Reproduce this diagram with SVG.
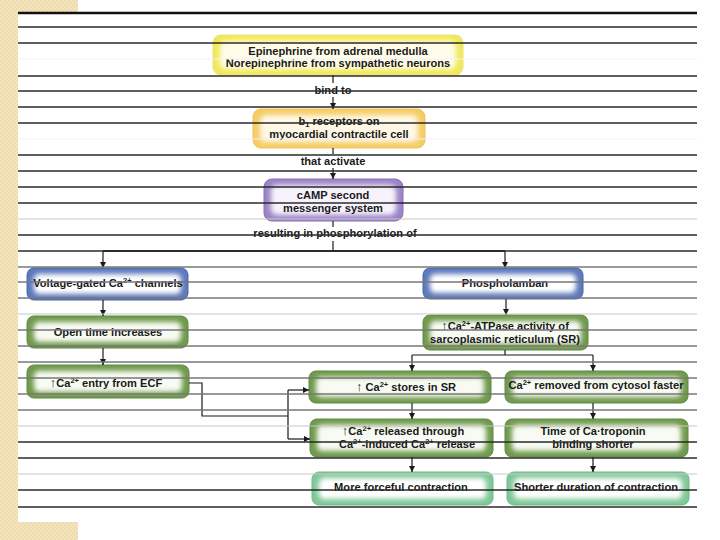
<svg xmlns="http://www.w3.org/2000/svg" width="720" height="540" viewBox="0 0 720 540">
<defs>
<pattern id="tex" width="4" height="4" patternUnits="userSpaceOnUse">
<rect width="4" height="4" fill="#f3e4bb"/>
<circle cx="1" cy="1" r="0.8" fill="#e8d5a4"/>
<circle cx="3" cy="3" r="0.8" fill="#e8d5a4"/>
</pattern>
<filter id="soft" x="-20%" y="-40%" width="140%" height="180%">
<feGaussianBlur stdDeviation="2.8"/>
</filter>
<marker id="ah" markerUnits="userSpaceOnUse" markerWidth="7" markerHeight="7" refX="6" refY="3" orient="auto">
<path d="M0,0 L6,3 L0,6 z" fill="#1a1a1a"/>
</marker>
<style>
.t{font-family:"Liberation Sans",Arial,Helvetica,sans-serif;font-weight:bold;font-size:11.1px;fill:#1a1a1a;text-anchor:middle}
.sup{font-size:7.5px}
.up{font-size:13px;font-weight:normal}
.c{fill:none;stroke:#1a1a1a;stroke-width:1.2}
.ca{fill:none;stroke:#1a1a1a;stroke-width:1.2;marker-end:url(#ah)}
.inner{filter:url(#soft)}
.yel .o{fill:#f1e95a;stroke:#ece27a;stroke-width:1}
.yel .inner{fill:#fffdea}
.org .o{fill:#f5cd66;stroke:#efc45a;stroke-width:1}
.org .inner{fill:#fff8e6}
.pur .o{fill:#9c84c6;stroke:#8870b4;stroke-width:1}
.pur .inner{fill:#f7f3fc}
.blu .o{fill:#5b79bc;stroke:#4a66a8;stroke-width:1}
.blu .inner{fill:#ffffff}
.grn .o{fill:#6f9a4c;stroke:#5e8840;stroke-width:1}
.grn .inner{fill:#f8fbf3}
.mnt .o{fill:#80c898;stroke:#6fb888;stroke-width:1}
.mnt .inner{fill:#ffffff}
.rl{stroke:#2a2a2a;stroke-width:1.3}
.rg{stroke:#777;stroke-width:1.3}
.rf{stroke:#c8c8c8;stroke-width:1.2}
.rx{stroke:#f2f2f2;stroke-width:1}
</style>
</defs>

<g id="background">
<rect x="0" y="0" width="720" height="540" fill="#ffffff"/>
<rect x="0" y="0" width="18" height="540" fill="url(#tex)"/>
<rect x="0" y="0" width="78" height="12" fill="url(#tex)"/>
<rect x="0" y="522" width="78" height="18" fill="url(#tex)"/>
</g>

<g id="n-epinephrine" class="yel">
<rect class="o" x="213" y="35" width="250" height="40" rx="8"/>
<rect class="inner" x="220" y="41" width="236" height="28" rx="6"/>
<text class="t" x="338" y="55">Epinephrine from adrenal medulla</text>
<text class="t" x="338" y="67">Norepinephrine from sympathetic neurons</text>
</g>

<g id="n-b1" class="org">
<rect class="o" x="253" y="109" width="172" height="39" rx="8"/>
<rect class="inner" x="260" y="115" width="158" height="27" rx="6"/>
<text class="t" x="339" y="125">b<tspan class="sup" dy="2">1</tspan><tspan dy="-2"> receptors on</tspan></text>
<text class="t" x="339" y="138">myocardial contractile cell</text>
</g>

<g id="n-camp" class="pur">
<rect class="o" x="264" y="179" width="139" height="42" rx="8"/>
<rect class="inner" x="271" y="185" width="125" height="30" rx="6"/>
<text class="t" x="333" y="199">cAMP second</text>
<text class="t" x="333" y="212">messenger system</text>
</g>

<g id="n-voltage" class="blu">
<rect class="o" x="27" y="268" width="161" height="32" rx="7"/>
<rect class="inner" x="34" y="274" width="147" height="20" rx="5"/>
<text class="t" x="108" y="287">Voltage-gated Ca<tspan class="sup" dy="-4">2+</tspan><tspan dy="4"> channels</tspan></text>
</g>

<g id="n-phospholamban" class="blu">
<rect class="o" x="423" y="268" width="160" height="31" rx="7"/>
<rect class="inner" x="430" y="274" width="146" height="19" rx="5"/>
<text class="t" x="505" y="287">Phospholamban</text>
</g>

<g id="n-opentime" class="grn">
<rect class="o" x="27" y="316" width="161" height="32" rx="7"/>
<rect class="inner" x="34" y="322" width="147" height="20" rx="5"/>
<text class="t" x="108" y="336">Open time increases</text>
</g>

<g id="n-atpase" class="grn">
<rect class="o" x="423" y="315" width="165" height="35" rx="7"/>
<rect class="inner" x="430" y="321" width="151" height="23" rx="5"/>
<text class="t" x="505" y="330"><tspan class="up">↑</tspan>Ca<tspan class="sup" dy="-4">2+</tspan><tspan dy="4">-ATPase activity of</tspan></text>
<text class="t" x="505" y="343">sarcoplasmic reticulum (SR)</text>
</g>

<g id="n-entry" class="grn">
<rect class="o" x="27" y="365" width="162" height="33" rx="7"/>
<rect class="inner" x="34" y="371" width="148" height="21" rx="5"/>
<text class="t" x="106" y="387"><tspan class="up">↑</tspan>Ca<tspan class="sup" dy="-4">2+</tspan><tspan dy="4"> entry from ECF</tspan></text>
</g>

<g id="n-stores" class="grn">
<rect class="o" x="309" y="371" width="182" height="32" rx="7"/>
<rect class="inner" x="316" y="377" width="168" height="20" rx="5"/>
<text class="t" x="406" y="391"><tspan class="up">↑</tspan> Ca<tspan class="sup" dy="-4">2+</tspan><tspan dy="4"> stores in SR</tspan></text>
</g>

<g id="n-removed" class="grn">
<rect class="o" x="505" y="371" width="183" height="32" rx="7"/>
<rect class="inner" x="512" y="377" width="169" height="20" rx="5"/>
<text class="t" x="596" y="389">Ca<tspan class="sup" dy="-4">2+</tspan><tspan dy="4"> removed from cytosol faster</tspan></text>
</g>

<g id="n-released" class="grn">
<rect class="o" x="310" y="419" width="183" height="38" rx="7"/>
<rect class="inner" x="317" y="425" width="169" height="26" rx="5"/>
<text class="t" x="403" y="435"><tspan class="up">↑</tspan>Ca<tspan class="sup" dy="-4">2+</tspan><tspan dy="4"> released through</tspan></text>
<text class="t" x="407" y="448">Ca<tspan class="sup" dy="-4">2+</tspan><tspan dy="4">-induced Ca</tspan><tspan class="sup" dy="-4">2+</tspan><tspan dy="4"> release</tspan></text>
</g>

<g id="n-troponin" class="grn">
<rect class="o" x="505" y="419" width="183" height="38" rx="7"/>
<rect class="inner" x="512" y="425" width="169" height="26" rx="5"/>
<text class="t" x="593" y="435">Time of Ca·troponin</text>
<text class="t" x="593" y="448">binding shorter</text>
</g>

<g id="n-forceful" class="mnt">
<rect class="o" x="312" y="472" width="181" height="33" rx="7"/>
<rect class="inner" x="319" y="478" width="167" height="21" rx="5"/>
<text class="t" x="401" y="491">More forceful contraction</text>
</g>

<g id="n-shorter" class="mnt">
<rect class="o" x="507" y="472" width="182" height="33" rx="7"/>
<rect class="inner" x="514" y="478" width="168" height="21" rx="5"/>
<text class="t" x="596" y="491">Shorter duration of contraction</text>
</g>

<g id="connectors">
<line class="c" x1="333" y1="75" x2="333" y2="83"/>
<text class="t" x="333" y="94">bind to</text>
<line class="ca" x1="333" y1="97" x2="333" y2="109"/>
<line class="c" x1="333" y1="148" x2="333" y2="154"/>
<text class="t" x="333" y="165">that activate</text>
<line class="ca" x1="333" y1="168" x2="333" y2="179"/>
<line class="c" x1="333" y1="221" x2="333" y2="227"/>
<text class="t" x="335" y="237">resulting in phosphorylation of</text>
<line class="c" x1="333" y1="241" x2="333" y2="251"/>
<path d="M103 251 H505" fill="none" stroke="#333" stroke-width="2.2"/>
<line class="ca" x1="103" y1="251" x2="103" y2="268"/>
<line class="ca" x1="505" y1="251" x2="505" y2="268"/>
<line class="ca" x1="103" y1="300" x2="103" y2="316"/>
<line class="ca" x1="103" y1="348" x2="103" y2="365"/>
<line class="ca" x1="506" y1="299" x2="506" y2="315"/>
<path class="c" d="M505 350 V355 M412 355 H593"/>
<line class="ca" x1="412" y1="355" x2="412" y2="371"/>
<line class="ca" x1="593" y1="355" x2="593" y2="371"/>
<line class="ca" x1="412" y1="403" x2="412" y2="419"/>
<line class="ca" x1="412" y1="457" x2="412" y2="472"/>
<line class="ca" x1="593" y1="403" x2="593" y2="419"/>
<line class="ca" x1="593" y1="457" x2="593" y2="472"/>
<path class="c" d="M189 383 H202 V416 H288 M288 390 V439"/>
<path class="ca" d="M288 390 H309"/>
<path class="ca" d="M288 439 H310"/>
</g>

<g id="ruled-lines">
<line x1="18" y1="13" x2="697" y2="13" stroke="#111" stroke-width="2.5"/>
<line class="rl" x1="18" y1="27" x2="697" y2="27"/>
<line class="rl" x1="18" y1="43" x2="697" y2="43"/>
<line class="rx" x1="18" y1="59" x2="697" y2="59"/>
<line class="rl" x1="18" y1="76" x2="697" y2="76"/>
<line class="rl" x1="18" y1="91" x2="697" y2="91"/>
<line class="rl" x1="18" y1="107" x2="697" y2="107"/>
<line class="rl" x1="18" y1="123" x2="697" y2="123"/>
<line class="rx" x1="18" y1="139" x2="697" y2="139"/>
<line class="rl" x1="18" y1="155" x2="697" y2="155"/>
<line class="rl" x1="18" y1="171" x2="697" y2="171"/>
<line class="rl" x1="18" y1="187" x2="697" y2="187"/>
<line class="rl" x1="18" y1="203" x2="697" y2="203"/>
<line class="rf" x1="18" y1="219" x2="697" y2="219"/>
<line class="rl" x1="18" y1="235" x2="697" y2="235"/>
<line class="rl" x1="18" y1="251" x2="697" y2="251"/>
<line class="rg" x1="18" y1="267" x2="697" y2="267"/>
<line class="rg" x1="18" y1="282" x2="697" y2="282"/>
<line class="rg" x1="18" y1="298" x2="697" y2="298"/>
<line class="rf" x1="18" y1="314" x2="697" y2="314"/>
<line class="rg" x1="18" y1="330" x2="697" y2="330"/>
<line class="rg" x1="18" y1="346" x2="697" y2="346"/>
<line class="rg" x1="18" y1="362" x2="697" y2="362"/>
<line class="rg" x1="18" y1="378" x2="697" y2="378"/>
<line class="rg" x1="18" y1="394" x2="697" y2="394"/>
<line class="rg" x1="18" y1="410" x2="697" y2="410"/>
<line class="rf" x1="18" y1="426" x2="697" y2="426"/>
<line class="rl" x1="18" y1="442" x2="697" y2="442"/>
<line class="rl" x1="18" y1="458" x2="697" y2="458"/>
<line class="rf" x1="18" y1="474" x2="697" y2="474"/>
<line class="rl" x1="18" y1="490" x2="697" y2="490"/>
<line class="rl" x1="18" y1="507" x2="697" y2="507"/>
</g>
</svg>
